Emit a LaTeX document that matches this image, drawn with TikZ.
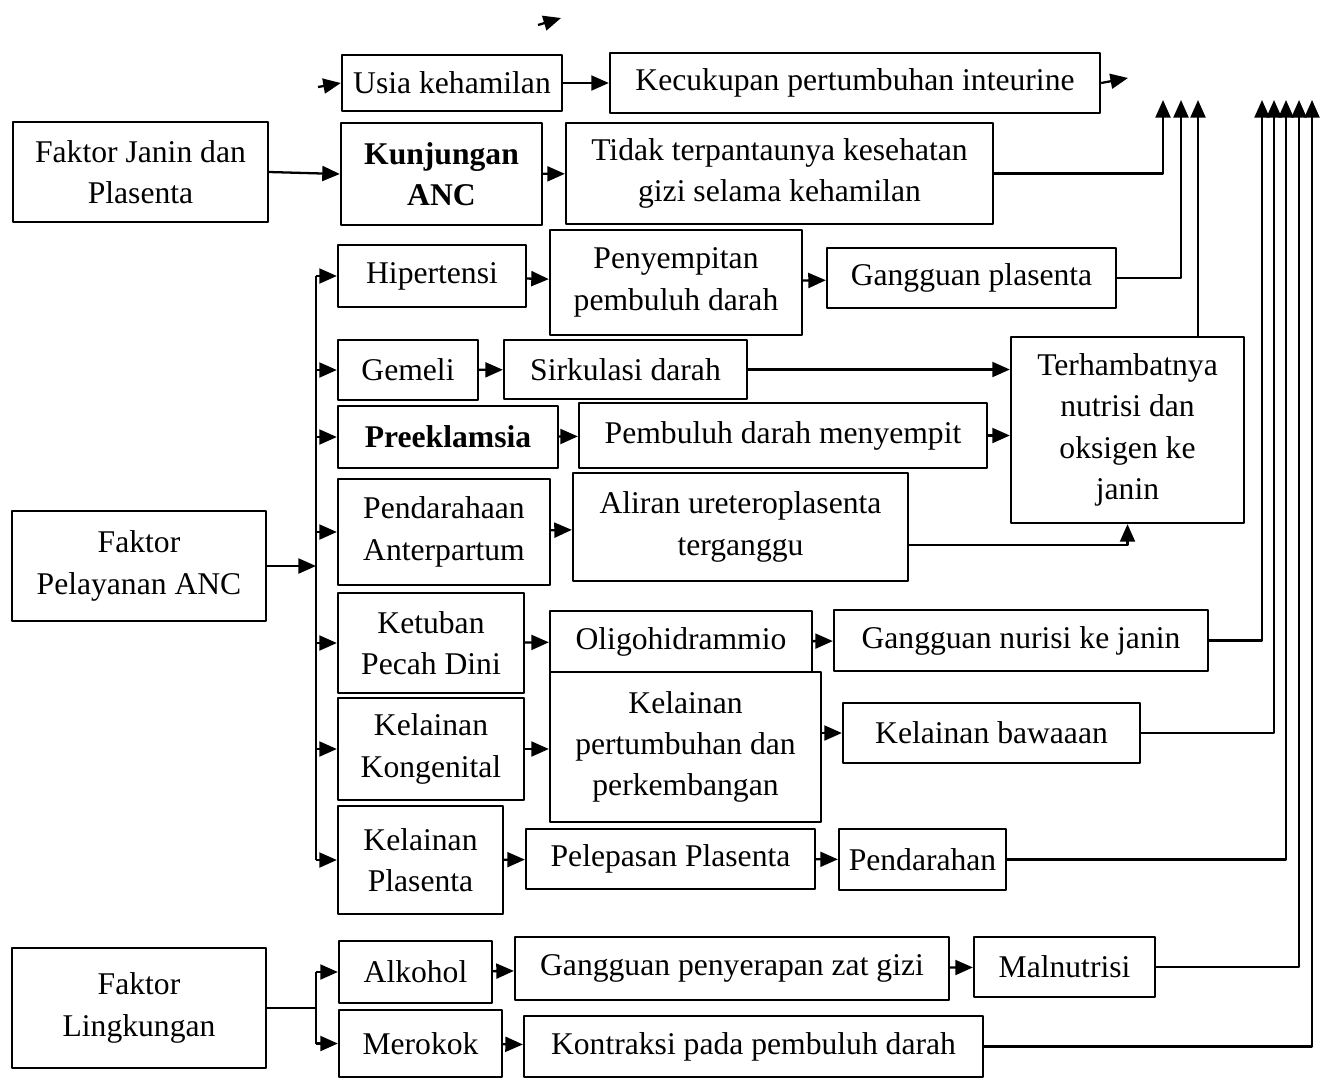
\documentclass[tikz,border=0pt]{standalone}
\usepackage{fontspec}
\setmainfont{Liberation Serif}
\usetikzlibrary{arrows.meta,calc}

\begin{document}
\begin{tikzpicture}[x=0.02cm,y=-0.02cm,line join=round,>={Triangle[length=10pt,width=8.5pt]},line width=1.3pt]
	\tikzset{box/.style={draw,align=center,inner sep=0pt,font=\fontsize{18}{23.5}\selectfont},
		sz/.style 2 args={minimum width=#1*0.02cm,minimum height=#2*0.02cm}}
	\useasboundingbox (0,0) rectangle (1327,1079);
	% faktor (kiri)
	\node[box,sz={255}{100}] (janin) at (140.5,172) {Faktor Janin dan\\Plasenta};
	\node[box,sz={254}{110}] (pelayanan) at (139,566) {Faktor\\Pelayanan ANC};
	\node[box,sz={254}{120}] (lingkungan) at (139,1008) {Faktor\\Lingkungan};
	% baris atas
	\node[box,sz={220}{56}] (usia) at (452,83) {Usia kehamilan};
	\node[box,sz={490}{60}] (kecukupan) at (855,83) {Kecukupan pertumbuhan inteurine};
	\node[box,sz={201}{102}] (kunjungan) at (441.5,174) {\textbf{Kunjungan}\\\textbf{ANC}};
	\node[box,sz={427}{101}] (tidak) at (779.5,173.5) {Tidak terpantaunya kesehatan\\gizi selama kehamilan};
	% pelayanan ANC
	\node[box,sz={188}{62}] (hipertensi) at (432,276) {Hipertensi};
	\node[box,sz={252}{105}] (penyempitan) at (676,282.5) {Penyempitan\\pembuluh darah};
	\node[box,sz={289}{60}] (gplasenta) at (971.5,278) {Gangguan plasenta};
	\node[box,sz={140}{60}] (gemeli) at (408,370) {Gemeli};
	\node[box,sz={243}{59}] (sirkulasi) at (625.5,369.5) {Sirkulasi darah};
	\node[box,sz={220}{62}] (preeklamsia) at (448,437) {\textbf{Preeklamsia}};
	\node[box,sz={408}{65}] (pembuluh) at (783,435.5) {Pembuluh darah menyempit};
	\node[box,sz={233}{186}] (terhambat) at (1127.5,430) {Terhambatnya\\nutrisi dan\\oksigen ke\\janin};
	\node[box,sz={212}{106}] (pendarahaan) at (444,532) {Pendarahaan\\Anterpartum};
	\node[box,sz={335}{108}] (aliran) at (740.5,527) {Aliran ureteroplasenta\\terganggu};
	\node[box,sz={186}{100}] (ketuban) at (431,643) {Ketuban\\Pecah Dini};
	\node[box,sz={262}{61}] (oligo) at (681,641.5) {Oligohidrammio};
	\node[box,sz={374}{61}] (gnurisi) at (1021,640.5) {Gangguan nurisi ke janin};
	\node[box,sz={186}{102}] (kongenital) at (431,749) {Kelainan\\Kongenital};
	\node[box,sz={271}{150}] (kpert) at (685.5,747) {Kelainan\\pertumbuhan dan\\perkembangan};
	\node[box,sz={297}{60}] (bawaan) at (991.5,733) {Kelainan bawaaan};
	\node[box,sz={165}{108}] (kplasenta) at (420.5,860) {Kelainan\\Plasenta};
	\node[box,sz={289}{60}] (pelepasan) at (670.5,859) {Pelepasan Plasenta};
	\node[box,sz={167}{61}] (pendarahan) at (922.5,859.5) {Pendarahan};
	% lingkungan
	\node[box,sz={153}{62}] (alkohol) at (415.5,972) {Alkohol};
	\node[box,sz={163}{67}] (merokok) at (420.5,1043.5) {Merokok};
	\node[box,sz={434}{63}] (penyerapan) at (732,968.5) {Gangguan penyerapan zat gizi};
	\node[box,sz={181}{60}] (malnutrisi) at (1064.5,967) {Malnutrisi};
	\node[box,sz={459}{61}] (kontraksi) at (753.5,1046.5) {Kontraksi pada pembuluh darah};
	% titik bantu
	\coordinate (s1) at (538,25); \coordinate (s2) at (561,18);
	\coordinate (usiaIn) at (318,87); \coordinate (kecOut) at (1128,78);
	\coordinate (busP) at (316,0); \coordinate (busL) at (316,0);
	\coordinate (up1) at (1163,100); \coordinate (up2) at (1181,100); \coordinate (up3) at (1198,100);
	\coordinate (up4) at (1262,100); \coordinate (up5) at (1274,100); \coordinate (up6) at (1286,100);
	\coordinate (up7) at (1299,100); \coordinate (up8) at (1312,100);
	% panah
	\draw[->] (s1)--(s2); \draw[->] (usiaIn)--(usia.west); \draw[->] (usia)--(kecukupan); \draw[->] (kecukupan.east)--(kecOut);
	\draw[->] (janin.east)--(kunjungan.west); \draw[->] (kunjungan)--(tidak);
	\draw[->] (pelayanan.east)--(busP |- pelayanan.east); \draw (busP |- hipertensi.west)--(busP |- kplasenta.west);
	\foreach \n in {hipertensi,gemeli,preeklamsia,pendarahaan,ketuban,kongenital,kplasenta}
		\draw[->] (busP |- \n.west)--(\n.west);
	\draw[->] (hipertensi)--(penyempitan); \draw[->] (penyempitan)--(gplasenta);
	\draw[->] (gemeli)--(sirkulasi); \draw[->] (sirkulasi.east)--(sirkulasi.east -| terhambat.west);
	\draw[->] (preeklamsia)--(pembuluh); \draw[->] (pembuluh.east)--(pembuluh.east -| terhambat.west);
	\draw[->] (pendarahaan)--(aliran); \draw[->] ($(aliran.east)+(0,18)$) -| (terhambat.south);
	\draw[->] (ketuban)--(oligo); \draw[->] (oligo)--(gnurisi);
	\draw[->] (kongenital)--(kongenital -| kpert.west); \draw[->] (kpert.east |- bawaan.west)--(bawaan.west);
	\draw[->] (kplasenta)--(pelepasan); \draw[->] (pelepasan)--(pendarahan);
	\draw (lingkungan.east)--(busL |- lingkungan.east); \draw (busL |- alkohol.west)--(busL |- merokok.west);
	\draw[->] (busL |- alkohol.west)--(alkohol.west); \draw[->] (busL |- merokok.west)--(merokok.west);
	\draw[->] (alkohol)--(penyerapan); \draw[->] (penyerapan)--(malnutrisi); \draw[->] (merokok)--(kontraksi);
	% ke atas
	\draw[->] (tidak.east) -| (up1); \draw[->] (gplasenta.east) -| (up2); \draw[->] (terhambat.north -| up3)--(up3);
	\draw[->] (gnurisi.east) -| (up4); \draw[->] (bawaan.east) -| (up5); \draw[->] (pendarahan.east) -| (up6);
	\draw[->] (malnutrisi.east) -| (up7); \draw[->] (kontraksi.east) -| (up8);
\end{tikzpicture}
\end{document}
